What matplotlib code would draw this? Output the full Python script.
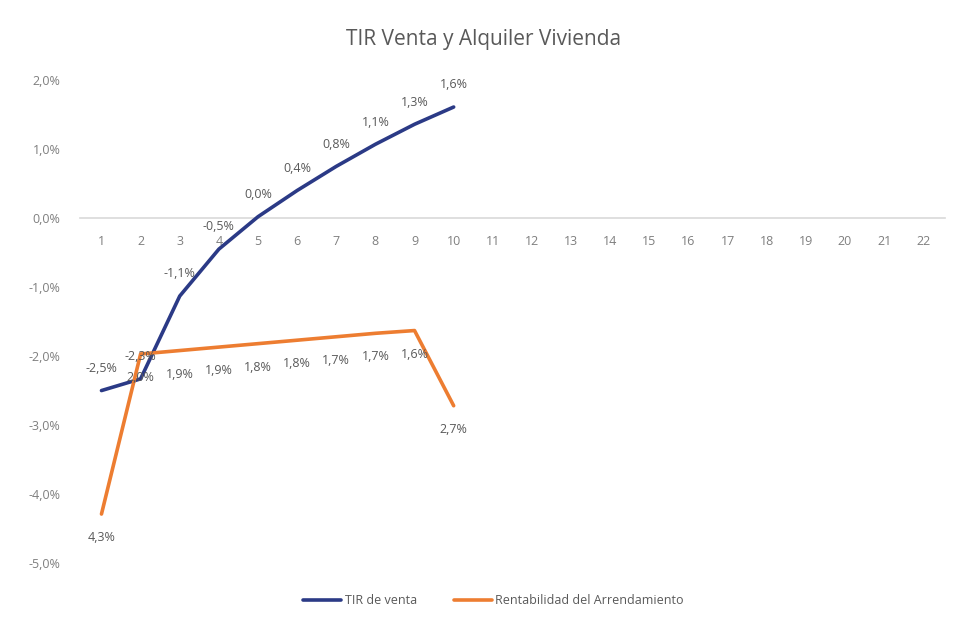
import matplotlib
matplotlib.use("Agg")
import matplotlib.pyplot as plt
from matplotlib.ticker import FuncFormatter

plt.rcParams['font.family'] = ['Open Sans', 'DejaVu Sans']

categories = list(range(1, 23))
x_vals = list(range(1, 11))
tir_venta = [-2.5, -2.33, -1.13, -0.45, 0.02, 0.40, 0.75, 1.07, 1.36, 1.61]
rent_arr = [-4.29, -1.97, -1.92, -1.87, -1.82, -1.77, -1.72, -1.67, -1.63, -2.72]
tir_labels = ["-2,5%", "-2,3%", "-1,1%", "-0,5%", "0,0%", "0,4%", "0,8%", "1,1%", "1,3%", "1,6%"]
rent_labels = ["4,3%", "2,0%", "1,9%", "1,9%", "1,8%", "1,8%", "1,7%", "1,7%", "1,6%", "2,7%"]
yticks = [2, 1, 0, -1, -2, -3, -4, -5]

blue = "#2B3A86"
orange = "#ED7D31"
txt = "#595959"
tick_c = "#7F7F7F"

fig = plt.figure(figsize=(9.68, 6.26), dpi=100)
ax = fig.add_axes([0.0826, 0.1006, 0.8934, 0.7714])

ax.plot(x_vals, tir_venta, color=blue, lw=2.6, label="TIR de venta",
        solid_capstyle='round', solid_joinstyle='round', zorder=3)
ax.plot(x_vals, rent_arr, color=orange, lw=2.6, label="Rentabilidad del Arrendamiento",
        solid_capstyle='round', solid_joinstyle='round', zorder=3)

for x, y, s in zip(x_vals, tir_venta, tir_labels):
    ax.annotate(s, (x, y), xytext=(0, 16), textcoords='offset points', ha='center', va='center',
                fontsize=9, color=txt, zorder=4)
for x, y, s in zip(x_vals, rent_arr, rent_labels):
    ax.annotate(s, (x, y), xytext=(0, -17), textcoords='offset points', ha='center', va='center',
                fontsize=9, color=txt, zorder=4)

ax.set_xlim(0.45, 22.55)
ax.set_ylim(-5, 2)
ax.set_yticks(yticks)
ax.yaxis.set_major_formatter(FuncFormatter(lambda v, p: f"{v:.1f}%".replace('.', ',')))
ax.set_xticks(categories)
ax.set_xticklabels([str(c) for c in categories])

for sp in ['top', 'right', 'left']:
    ax.spines[sp].set_visible(False)
ax.spines['bottom'].set_position(('data', 0))
ax.spines['bottom'].set_color("#D9D9D9")
ax.spines['bottom'].set_linewidth(1.2)
ax.tick_params(axis='x', length=0, pad=12, labelsize=9, labelcolor=tick_c)
ax.tick_params(axis='y', length=0, pad=14, labelsize=9, labelcolor=tick_c)

fig.text(0.5, 0.937, "TIR Venta y Alquiler Vivienda", ha='center', va='center', fontsize=15, color=txt)

leg = fig.legend(loc='center', bbox_to_anchor=(0.51, 0.04), ncol=2, frameon=False, fontsize=9,
                 handlelength=3, columnspacing=3, handletextpad=0.3)
for t in leg.get_texts():
    t.set_color(txt)

fig.savefig("out.png", dpi=100, facecolor='white')
